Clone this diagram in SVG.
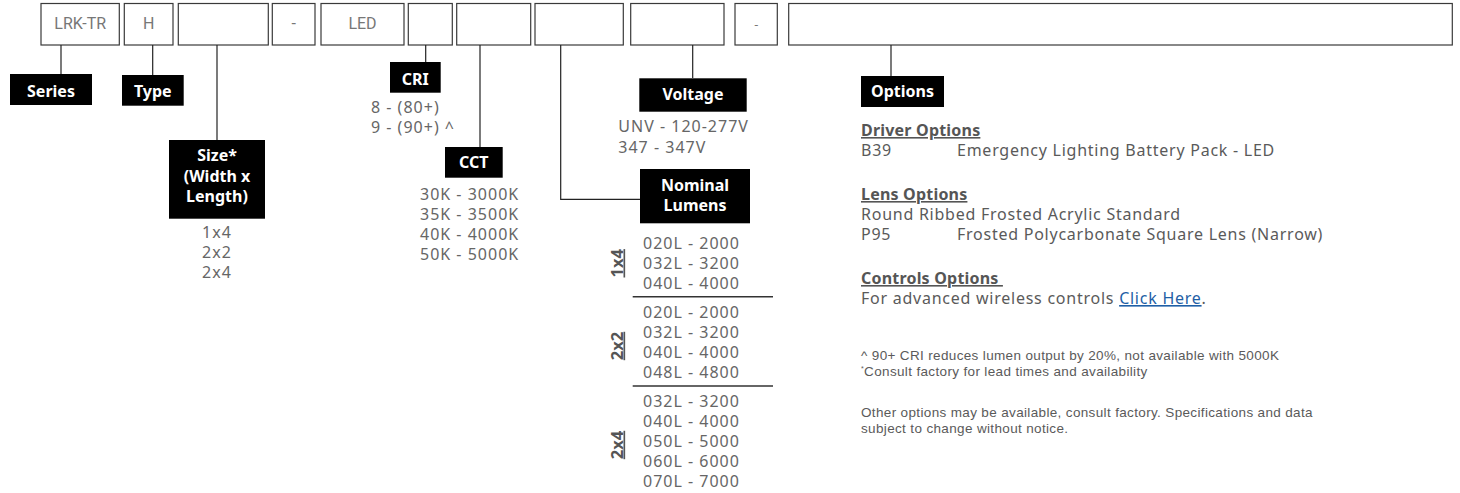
<svg xmlns="http://www.w3.org/2000/svg" width="1460" height="493" viewBox="0 0 1460 493">
<style>
.box{fill:#fff;stroke:#3a3a3a;stroke-width:1.2}
.code{font-family:Roboto,'Liberation Sans',sans-serif;font-size:16px;fill:#777;text-anchor:middle}
.hdr{fill:#000}
.ht{font-family:'Noto Sans','Open Sans',sans-serif;font-weight:bold;font-size:16px;fill:#fff;text-anchor:middle}
.val{font-family:'Noto Sans','Open Sans',sans-serif;font-size:16px;fill:#666;letter-spacing:1px}
.mid{text-anchor:middle}
.rot{font-family:'Noto Sans','Open Sans',sans-serif;font-weight:bold;font-size:16.5px;fill:#555;text-anchor:middle;text-decoration:underline}
.txt{font-family:'Noto Sans','Open Sans',sans-serif;font-size:16px;fill:#5a5a5a;letter-spacing:0.75px}
.sub{font-family:'Noto Sans','Open Sans',sans-serif;font-size:16px;font-weight:bold;fill:#555;text-decoration:underline;letter-spacing:0.2px}
.fn{font-family:'Liberation Sans',Arial,sans-serif;font-size:13.5px;fill:#5a5a5a;letter-spacing:0.35px}
.link{fill:#1f5fa6;text-decoration:underline}
.conn{stroke:#222;stroke-width:1.2;fill:none}
.sep{stroke:#333;stroke-width:1.5}
</style>
<g id="code-boxes">
<g id="box-series"><rect class="box" x="41" y="3.5" width="78.3" height="41.5"/><text class="code" x="80.2" y="28.5">LRK-TR</text></g>
<g id="box-type"><rect class="box" x="124.3" y="3.5" width="48.7" height="41.5"/><text class="code" x="148.7" y="28.5">H</text></g>
<g id="box-size"><rect class="box" x="178.3" y="3.5" width="90" height="41.5"/></g>
<g id="box-dash1"><rect class="box" x="272.3" y="3.5" width="42.7" height="41.5"/><text class="code" x="293.7" y="28.5">-</text></g>
<g id="box-led"><rect class="box" x="321" y="3.5" width="83" height="41.5"/><text class="code" x="362.5" y="28.5">LED</text></g>
<g id="box-cri"><rect class="box" x="408.3" y="3.5" width="44" height="41.5"/></g>
<g id="box-cct"><rect class="box" x="456.7" y="3.5" width="74" height="41.5"/></g>
<g id="box-lumens"><rect class="box" x="535" y="3.5" width="88.3" height="41.5"/></g>
<g id="box-voltage"><rect class="box" x="630.7" y="3.5" width="93.3" height="41.5"/></g>
<g id="box-dash2"><rect class="box" x="735" y="3.5" width="42.3" height="41.5"/><text class="code" x="756.2" y="28.5" style="font-size:13px">-</text></g>
<g id="box-options"><rect class="box" x="788.7" y="3.5" width="663.6" height="41.5"/></g>
</g>
<g id="connectors">
<line class="conn" x1="61" y1="45" x2="61" y2="74"/>
<line class="conn" x1="152.7" y1="45" x2="152.7" y2="75"/>
<line class="conn" x1="217" y1="45" x2="217" y2="140"/>
<line class="conn" x1="425.7" y1="45" x2="425.7" y2="62"/>
<line class="conn" x1="480" y1="45" x2="480" y2="147"/>
<polyline class="conn" points="560.7,45 560.7,199.3 640,199.3"/>
<line class="conn" x1="692.7" y1="45" x2="692.7" y2="78"/>
<line class="conn" x1="891" y1="45" x2="891" y2="76"/>
</g>
<g id="series"><rect class="hdr" x="10" y="74" width="82" height="31"/><text class="ht" x="51" y="96.5">Series</text></g>
<g id="type"><rect class="hdr" x="122" y="75" width="61.7" height="30.7"/><text class="ht" x="152.8" y="96.5">Type</text></g>
<g id="size">
<rect class="hdr" x="169" y="140" width="96" height="78.7"/>
<text class="ht" x="217" y="161">Size*</text>
<text class="ht" x="217" y="181.5">(Width x</text>
<text class="ht" x="217" y="202">Length)</text>
<text class="val mid" x="217" y="238.3">1x4</text>
<text class="val mid" x="217" y="258.3">2x2</text>
<text class="val mid" x="217" y="278">2x4</text>
</g>
<g id="cri">
<rect class="hdr" x="390" y="62" width="50.7" height="30.7"/><text class="ht" x="415.3" y="85">CRI</text>
<text class="val" x="371" y="113.3">8 - (80+)</text>
<text class="val" x="371" y="133.3">9 - (90+) ^</text>
</g>
<g id="cct">
<rect class="hdr" x="445" y="147" width="57.7" height="30.7"/><text class="ht" x="473.8" y="168.3">CCT</text>
<text class="val" x="420" y="200">30K - 3000K</text>
<text class="val" x="420" y="220">35K - 3500K</text>
<text class="val" x="420" y="240">40K - 4000K</text>
<text class="val" x="420" y="260">50K - 5000K</text>
</g>
<g id="voltage">
<rect class="hdr" x="639.3" y="78.3" width="107.4" height="33.4"/><text class="ht" x="693" y="100">Voltage</text>
<text class="val" x="618.3" y="132.3">UNV - 120-277V</text>
<text class="val" x="618.3" y="152.7">347 - 347V</text>
</g>
<g id="nominal-lumens">
<rect class="hdr" x="640" y="169" width="110" height="54.3"/>
<text class="ht" x="695" y="190.7">Nominal</text>
<text class="ht" x="695" y="211">Lumens</text>
<text class="rot" transform="translate(622.5,263.3) rotate(-90)">1x4</text>
<text class="val" x="643" y="249">020L - 2000</text>
<text class="val" x="643" y="269">032L - 3200</text>
<text class="val" x="643" y="289">040L - 4000</text>
<line class="sep" x1="632.7" y1="296.7" x2="773" y2="296.7"/>
<text class="rot" transform="translate(622.5,346) rotate(-90)">2x2</text>
<text class="val" x="643" y="317.7">020L - 2000</text>
<text class="val" x="643" y="337.7">032L - 3200</text>
<text class="val" x="643" y="357.7">040L - 4000</text>
<text class="val" x="643" y="377.7">048L - 4800</text>
<line class="sep" x1="632.7" y1="386" x2="773" y2="386"/>
<text class="rot" transform="translate(622.5,445) rotate(-90)">2x4</text>
<text class="val" x="643" y="407.3">032L - 3200</text>
<text class="val" x="643" y="427.3">040L - 4000</text>
<text class="val" x="643" y="447.3">050L - 5000</text>
<text class="val" x="643" y="467.3">060L - 6000</text>
<text class="val" x="643" y="487">070L - 7000</text>
</g>
<g id="options">
<rect class="hdr" x="861" y="76" width="83" height="31"/><text class="ht" x="902.5" y="97">Options</text>
<text class="sub" x="861" y="136">Driver Options</text>
<text class="txt" x="861" y="156">B39</text>
<text class="txt" x="957" y="156">Emergency Lighting Battery Pack - LED</text>
<text class="sub" x="861" y="200">Lens Options</text>
<text class="txt" x="861" y="220">Round Ribbed Frosted Acrylic Standard</text>
<text class="txt" x="861" y="240">P95</text>
<text class="txt" x="957" y="240">Frosted Polycarbonate Square Lens (Narrow)</text>
<text class="sub" x="861" y="284" xml:space="preserve">Controls Options </text>
<text class="txt" x="861" y="304">For advanced wireless controls <tspan class="link">Click Here</tspan>.</text>
<text class="fn" x="861" y="360">^ 90+ CRI reduces lumen output by 20%, not available with 5000K</text>
<text class="fn" x="861" y="375.5"><tspan font-size="7" dy="-5">*</tspan><tspan dy="5">Consult factory for lead times and availability</tspan></text>
<text class="fn" x="861" y="417">Other options may be available, consult factory. Specifications and data</text>
<text class="fn" x="861" y="432.5">subject to change without notice.</text>
</g>
</svg>
